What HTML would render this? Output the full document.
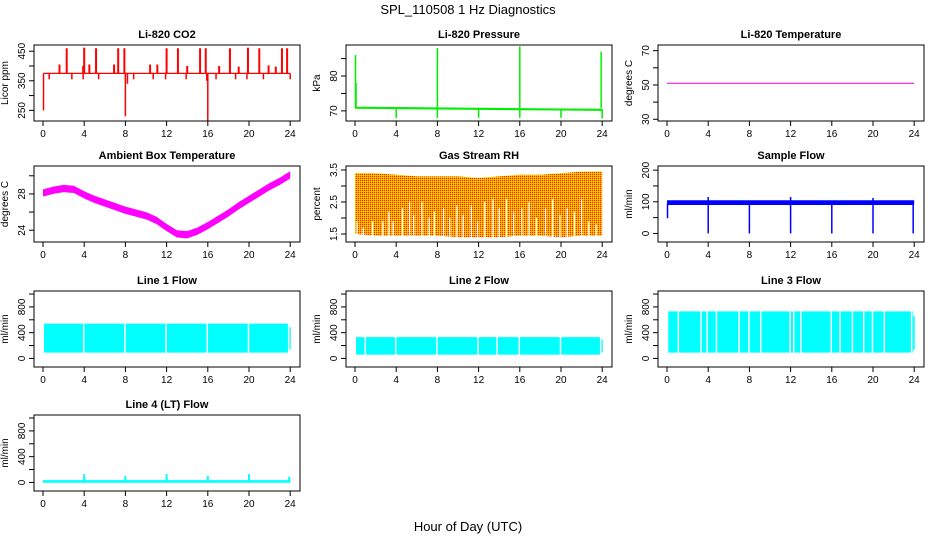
<!DOCTYPE html>
<html><head><meta charset="utf-8"><style>
body{margin:0;background:#fff}
svg{display:block;font-family:"Liberation Sans",sans-serif}
</style></head><body>
<svg id="c" width="936" height="540" viewBox="0 0 936 540">
<defs>
<pattern id="rhpat" width="2" height="2" patternUnits="userSpaceOnUse">
<rect width="2" height="2" fill="#ffa500"/><rect width="1" height="1" fill="#ff2000"/><rect x="1" y="1" width="1" height="1" fill="#ffe000"/>
</pattern>
</defs>
<text x="468" y="14" text-anchor="middle" font-size="13">SPL_110508  1 Hz Diagnostics</text>
<text x="468" y="531" text-anchor="middle" font-size="13">Hour of Day (UTC)</text>
</svg>
<script>
// ---- data ----
const hourTicks=[0,4,8,12,16,20,24];
const co2Base=375;
const co2UpSpikes=[[2.3,460],[4.0,462],[5.15,460],[7.3,460],[7.9,460],[12.0,460],[13.1,460],[15.25,460],[15.8,460],[18.15,460],[19.9,462],[21.0,460],[23.2,460],[23.7,460],[1.6,405],[3.9,400],[4.5,405],[6.9,405],[10.4,405],[11.1,405],[14.0,400],[17.1,400],[19.0,398],[21.9,402],[22.6,398]];
const co2DownSpikes=[[0.05,250],[8.0,230],[16.0,210],[0.6,355],[2.8,355],[3.9,355],[5.4,355],[8.2,340],[8.8,355],[10.7,355],[11.9,355],[13.9,355],[15.9,350],[16.8,355],[18.7,355],[19.8,355],[21.4,355],[24.0,355]];
const presHours=[0,4,8,12,16,20,24];
const presBase=[70.9,70.8,70.7,70.6,70.5,70.4,70.3];
const presUpSpikes=[[0.05,86],[0.1,78],[8.0,88],[16.0,88.5],[23.9,87]];
const presDownSpikes=[[4.0,68],[8.0,68],[12.0,68],[16.0,68],[20.0,68],[24.0,67.8]];
const liTempValue=51;
const ambHours=[0,1,2,3,4,5,6,7,8,9,10,11,12,13,14,15,16,17,18,19,20,21,22,23,24];
const ambTemp=[28.1,28.4,28.6,28.5,27.9,27.4,27.0,26.6,26.2,25.9,25.6,25.1,24.3,23.6,23.5,23.9,24.5,25.2,25.9,26.7,27.4,28.1,28.8,29.4,30.1];
const rhHours=[0,2,4,6,8,10,12,14,16,18,20,22,24];
const rhUpper=[3.4,3.4,3.35,3.3,3.3,3.3,3.25,3.3,3.35,3.35,3.4,3.45,3.45];
const rhLower=[1.5,1.45,1.45,1.45,1.45,1.4,1.4,1.4,1.45,1.45,1.4,1.45,1.45];
const rhGaps=[[0.2,1.9],[0.8,1.7],[1.7,1.9],[2.7,1.9],[3.3,2.2],[3.7,1.9],[4.6,2.3],[5.3,2.5],[5.7,2.1],[6.5,2.5],[7.2,2.0],[7.7,2.2],[8.6,2.3],[9.2,2.0],[9.9,2.4],[10.5,2.1],[11.3,2.4],[11.9,1.9],[12.6,2.5],[13.4,2.6],[14.0,2.3],[14.7,2.6],[15.4,2.2],[16.2,2.3],[16.9,2.5],[17.6,2.0],[18.5,2.3],[19.2,2.6],[19.9,2.1],[20.6,2.3],[21.3,2.2],[22.0,2.6],[22.7,1.9],[23.4,1.8]];
const sfHours=[0,24];
const sfUpper=[105,105];
const sfLower=[90,90];
const sfDownSpikes=[[0.05,48],[4.0,0],[8.0,0],[12.0,0],[16.0,0],[20.0,0],[23.9,0]];
const sfUpSpikes=[[4.0,115],[12.0,115],[20.0,112]];
const l1Upper=540, l1Lower=90;
const l1Gaps=[3.95,7.95,11.95,15.95,19.95,23.85];
const l2Upper=330, l2Lower=60;
const l2Gaps=[1.0,3.95,7.95,11.95,13.8,15.95,19.95,23.85];
const l3Upper=730, l3Lower=90;
const l3Gaps=[0.05,1.1,3.3,3.9,4.8,7.0,7.95,9.1,11.95,12.3,13.0,15.95,16.8,18.0,19.1,19.95,21.1,23.75];
const l4Base=10;
const l4Spikes=[[4.0,130],[8.0,100],[12.0,130],[16.0,100],[20.0,130],[23.9,90]];
</script>
<script>
const svg=document.getElementById('c');
const NS='http://www.w3.org/2000/svg';
const colL=[34,346,658], rowT=[45,166,291,415], BW=266, BH=76;
function mk(tag,attrs,parent){const e=document.createElementNS(NS,tag);for(const k in attrs)e.setAttribute(k,attrs[k]);(parent||svg).appendChild(e);return e;}
function panel(col,row,title,ylab,dom,ticks,labels){
  const L=colL[col],T=rowT[row],B=T+BH;
  const g=mk('g',{});
  
  
  const x=h=>L+9+h*10.3;
  const y=v=>B-(v-dom[0])/(dom[1]-dom[0])*BH;
  const clip='cl'+col+row;
  const cp=mk('clipPath',{id:clip},g);mk('rect',{x:L,y:T,width:BW,height:BH},cp);
  const plot=mk('g',{'clip-path':'url(#'+clip+')'},g);
  
  
  const box=mk('rect',{x:L,y:T,width:BW,height:BH,fill:'none',stroke:'#000','stroke-width':1},g);
  
  
  const t=mk('text',{x:L+BW/2,y:T-7,'text-anchor':'middle','font-size':11,'font-weight':'bold'},g);t.textContent=title;
  
  
  const yl=mk('text',{x:0,y:0,'text-anchor':'middle','font-size':10,transform:`translate(${L-26},${T+BH/2}) rotate(-90)`},g);yl.textContent=ylab;
  
  
  const xa=mk('g',{},g);
  
  
  mk('line',{x1:x(0),x2:x(24),y1:B,y2:B,stroke:'#000'},xa);
  hourTicks.forEach(h=>{mk('line',{x1:x(h),x2:x(h),y1:B,y2:B+5,stroke:'#000'},xa);
    const tl=mk('text',{x:x(h),y:B+16,'text-anchor':'middle','font-size':10},xa);tl.textContent=h;});
  const ya=mk('g',{},g);
  
  
  ticks.forEach(v=>{mk('line',{x1:L-5,x2:L,y1:y(v),y2:y(v),stroke:'#000'},ya);});
  labels.forEach(v=>{const tl=mk('text',{x:0,y:0,'text-anchor':'middle','font-size':10,transform:`translate(${L-9},${y(v)}) rotate(-90)`},ya);tl.textContent=v;});
  return {x,y,plot,T,B};
}
function band(p,hours,up,lo,fill,name){
  let d='M'+hours.map((h,i)=>p.x(h)+','+p.y(up[i])).join('L');
  d+='L'+hours.slice().reverse().map((h,i)=>p.x(h)+','+p.y(lo[hours.length-1-i])).join('L')+'Z';
  const e=mk('path',{d,fill,stroke:'none'},p.plot);
  
  
  return e;
}
function vline(p,h,v1,v2,stroke,w,name){
  const e=mk('line',{x1:p.x(h),x2:p.x(h),y1:p.y(v1),y2:p.y(v2),stroke,'stroke-width':w},p.plot);
  
  
}
// 1 CO2
let p=panel(0,0,'Li-820 CO2','Licor ppm',[214,471],[250,300,350,400,450],[250,350,450]);
co2UpSpikes.forEach(s=>vline(p,s[0],co2Base,s[1],'#ff0000',2,'co2-spike'));
co2DownSpikes.forEach(s=>vline(p,s[0],co2Base,s[1],'#ff0000',1.5,'co2-dip'));
band(p,[0.05,24],[co2Base+2,co2Base+2],[co2Base-2,co2Base-2],'#ff0000','co2-series');
// 2 Pressure
p=panel(1,0,'Li-820 Pressure','kPa',[67.1,88.9],[70,75,80,85],[70,80]);
band(p,presHours,presBase.map(v=>v+0.3),presBase.map(v=>v-0.3),'#00ee00','pressure-series');
presUpSpikes.forEach(s=>vline(p,s[0],70.8,s[1],'#00ee00',1.5,'pressure-spike'));
presDownSpikes.forEach(s=>vline(p,s[0],70.5,s[1],'#00ee00',1.5,'pressure-dip'));
// 3 Li temp
p=panel(2,0,'Li-820 Temperature','degrees C',[29,73.3],[30,40,50,60,70],[30,50,70]);
band(p,[0,24],[liTempValue+0.3,liTempValue+0.3],[liTempValue-0.3,liTempValue-0.3],'#e000e0','li-temp-series');
// 4 Ambient
p=panel(0,1,'Ambient Box Temperature','degrees C',[22.7,31.08],[24,26,28,30],[24,28]);
band(p,ambHours,ambTemp.map(v=>v+0.4),ambTemp.map(v=>v-0.4),'#ff00ff','ambient-temp-series');
// 5 RH
p=panel(1,1,'Gas Stream RH','percent',[1.25,3.625],[1.5,2,2.5,3,3.5],[1.5,2.5,3.5]);
band(p,rhHours,rhUpper,rhLower,'url(#rhpat)','rh-series');
rhGaps.forEach(s=>vline(p,s[0],1.2,s[1],'#fff',1.3,'rh-gap'));
// 6 Sample flow
p=panel(2,1,'Sample Flow','ml/min',[-27,213],[0,50,100,150,200],[0,100,200]);
band(p,sfHours,sfUpper,sfLower,'#0000ff','sample-flow-series');
sfDownSpikes.forEach(s=>vline(p,s[0],95,s[1],'#0000ff',1.5,'sample-flow-dip'));
sfUpSpikes.forEach(s=>vline(p,s[0],95,s[1],'#0000ff',1.5,'sample-flow-spike'));
// 7-9 line flows
const fdom=[-133,1047],fticks=[0,200,400,600,800,1000],flabs=[0,400,800];
function flow(col,row,title,up,lo,gaps,name){
  const q=panel(col,row,title,'ml/min',fdom,fticks,flabs);
  band(q,[0.1,23.9],[up,up],[lo,lo],'#00ffff',name);
  band(q,[23.9,24.05],[up*0.9,up*0.9],[lo*1.5,lo*1.5],'#00ffff',name+'-tail');
  gaps.forEach(h=>vline(q,h,lo-5,up+5,'#fff',1.5,'flow-gap'));
  return q;
}
flow(0,2,'Line 1 Flow',l1Upper,l1Lower,l1Gaps,'line1-flow-series');
flow(1,2,'Line 2 Flow',l2Upper,l2Lower,l2Gaps,'line2-flow-series');
flow(2,2,'Line 3 Flow',l3Upper,l3Lower,l3Gaps,'line3-flow-series');
// 10 Line 4
p=panel(0,3,'Line 4 (LT) Flow','ml/min',fdom,fticks,flabs);
band(p,[0,24],[l4Base+25,l4Base+25],[l4Base-15,l4Base-15],'#00ffff','line4-flow-series');
l4Spikes.forEach(s=>vline(p,s[0],l4Base,s[1],'#00ffff',2,'line4-spike'));
</script>
</body></html>
